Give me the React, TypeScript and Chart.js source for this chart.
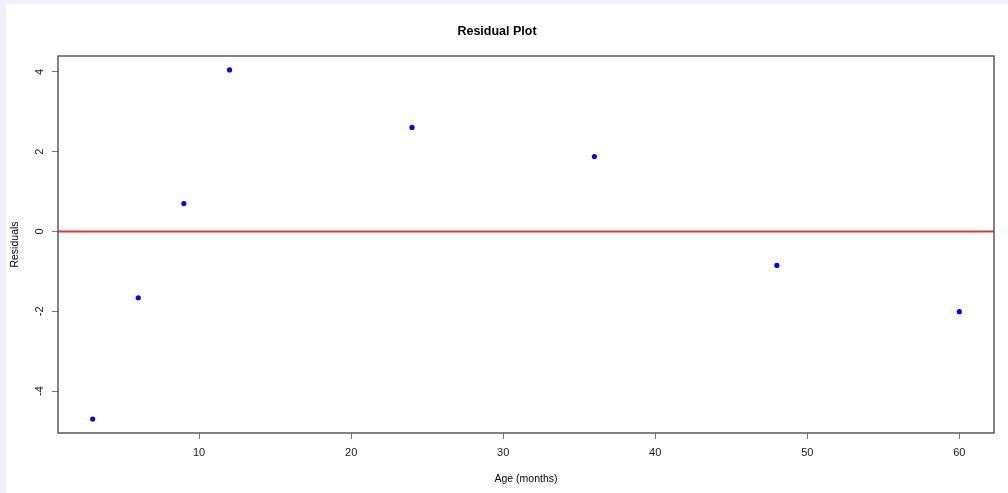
import React, { useEffect, useRef } from "react";
import { Chart, registerables } from "chart.js";

Chart.register(...registerables);

const ages: number[] = [3, 6, 9, 12, 24, 36, 48, 60];
const residuals: number[] = [-4.7, -1.66, 0.7, 4.05, 2.61, 1.88, -0.85, -2.01];
const xTicks: number[] = [10, 20, 30, 40, 50, 60];
const yTicks: number[] = [-4, -2, 0, 2, 4];
const xRange: number[] = [0.72, 62.28];
const yRange: number[] = [-5.05, 4.4];
const hLine = 0;

const FONT = "'Liberation Sans', Arial, sans-serif";

const bgPlugin = {
  id: "bgPlugin",
  beforeDraw(chart: any) {
    const { ctx, width, height } = chart;
    ctx.save();
    ctx.fillStyle = "#f0f0fd";
    ctx.fillRect(0, 0, width, height);
    ctx.fillStyle = "#ffffff";
    ctx.fillRect(6, 4, width - 6, height - 4);
    ctx.restore();
  },
};

const ablinePlugin = {
  id: "ablinePlugin",
  beforeDatasetsDraw(chart: any) {
    const { ctx, chartArea, scales } = chart;
    const y = scales.y.getPixelForValue(hLine);
    ctx.save();
    ctx.strokeStyle = "rgb(238,48,48)";
    ctx.lineWidth = 2;
    ctx.beginPath();
    ctx.moveTo(chartArea.left, y);
    ctx.lineTo(chartArea.right, y);
    ctx.stroke();
    ctx.restore();
  },
  afterDatasetsDraw(chart: any) {
    const { ctx, chartArea } = chart;
    ctx.save();
    ctx.strokeStyle = "#5a5a5a";
    ctx.lineWidth = 1.5;
    ctx.strokeRect(
      chartArea.left,
      chartArea.top,
      chartArea.right - chartArea.left,
      chartArea.bottom - chartArea.top
    );
    ctx.restore();
  },
};

export default function App() {
  const ref = useRef<HTMLCanvasElement | null>(null);

  useEffect(() => {
    if (!ref.current) return;
    const chart = new Chart(ref.current, {
      type: "scatter",
      data: {
        datasets: [
          {
            data: ages.map((a, i) => ({ x: a, y: residuals[i] })),
            backgroundColor: "#0000ff",
            borderColor: "#0000ff",
            borderWidth: 0,
            pointRadius: 2.6,
            pointHoverRadius: 2.6,
          },
        ],
      },
      plugins: [bgPlugin, ablinePlugin],
      options: {
        animation: false,
        responsive: false,
        events: [],
        layout: { padding: { left: 0, right: 14, top: 0, bottom: 0 } },
        plugins: {
          legend: { display: false },
          tooltip: { enabled: false },
          title: {
            display: true,
            text: "Residual Plot",
            color: "#000000",
            font: { family: FONT, size: 12.5, weight: "bold" },
            padding: { top: 24, bottom: 17 },
          },
        },
        scales: {
          x: {
            type: "linear",
            min: xRange[0],
            max: xRange[1],
            afterBuildTicks(scale: any) {
              scale.ticks = xTicks.map((v) => ({ value: v }));
            },
            afterFit(scale: any) {
              scale.height = 60;
            },
            border: { display: false },
            grid: {
              display: true,
              drawOnChartArea: false,
              drawTicks: true,
              tickLength: 6,
              color: "#7a7a7a",
            },
            ticks: {
              autoSkip: false,
              maxRotation: 0,
              minRotation: 0,
              padding: 7.5,
              color: "#1a1a1a",
              font: { family: FONT, size: 11 },
            },
            title: {
              display: true,
              text: "Age (months)",
              color: "#000000",
              font: { family: FONT, size: 10.5 },
              padding: { top: 0, bottom: 8 },
            },
          },
          y: {
            type: "linear",
            min: yRange[0],
            max: yRange[1],
            afterBuildTicks(scale: any) {
              scale.ticks = yTicks.map((v) => ({ value: v }));
            },
            afterFit(scale: any) {
              scale.width = 58;
            },
            border: { display: false },
            grid: {
              display: true,
              drawOnChartArea: false,
              drawTicks: true,
              tickLength: 6,
              color: "#7a7a7a",
            },
            ticks: {
              autoSkip: false,
              minRotation: 90,
              maxRotation: 90,
              crossAlign: "center",
              padding: 7.5,
              color: "#1a1a1a",
              font: { family: FONT, size: 11 },
            },
            title: {
              display: true,
              text: "Residuals",
              color: "#000000",
              font: { family: FONT, size: 10.5 },
              padding: { top: 8.5, bottom: 0 },
            },
          },
        },
      },
    });
    return () => chart.destroy();
  }, []);

  return (
    <div style={{ position: "absolute", left: 0, top: 0, width: 1008, height: 493 }}>
      <canvas ref={ref} width={1008} height={493} style={{ display: "block", width: 1008, height: 493 }} />
    </div>
  );
}
